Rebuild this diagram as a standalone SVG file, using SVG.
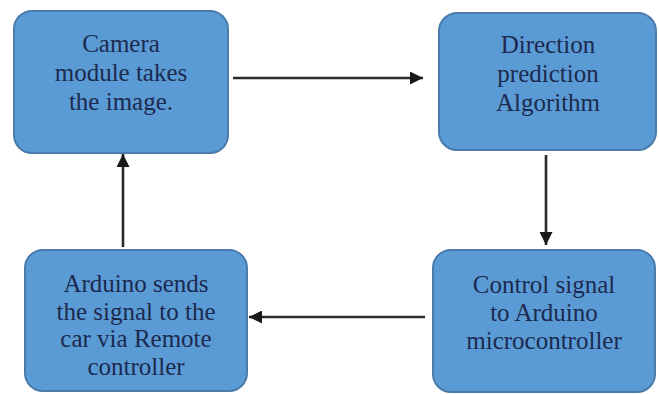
<svg xmlns="http://www.w3.org/2000/svg" width="659" height="394" viewBox="0 0 659 394">
<defs>
<marker id="ah" viewBox="0 0 10 10" refX="10" refY="5" markerWidth="5.5" markerHeight="5" markerUnits="strokeWidth" orient="auto">
<path d="M0,0 L10,5 L0,10 z" fill="#1a1a1a"/>
</marker>
<style>
.box{fill:#5B9BD5;stroke:#4A7BAA;stroke-width:2}
.c{stroke:#2b2b2b;stroke-width:2.6;fill:none;marker-end:url(#ah)}
</style>
</defs>
<rect width="659" height="394" fill="#ffffff"/>
<g id="camera">
<rect class="box" x="14" y="11" width="214" height="142" rx="18"/>
<g font-family="Liberation Serif" font-size="25" fill="#1B2A4E" text-anchor="middle">
<text x="121" y="52">Camera</text>
<text x="121" y="81">module takes</text>
<text x="121" y="110">the image.</text>
</g>
</g>
<g id="direction">
<rect class="box" x="439" y="13" width="217" height="137" rx="18"/>
<g font-family="Liberation Serif" font-size="25" fill="#1B2A4E" text-anchor="middle">
<text x="548" y="53">Direction</text>
<text x="548" y="82">prediction</text>
<text x="548" y="111">Algorithm</text>
</g>
</g>
<g id="control">
<rect class="box" x="433" y="250" width="222" height="142" rx="18"/>
<g font-family="Liberation Serif" font-size="25" fill="#1B2A4E" text-anchor="middle">
<text x="544" y="293">Control signal</text>
<text x="544" y="321">to Arduino</text>
<text x="544" y="349">microcontroller</text>
</g>
</g>
<g id="arduino">
<rect class="box" x="25" y="250" width="222" height="141" rx="18"/>
<g font-family="Liberation Serif" font-size="25" fill="#1B2A4E" text-anchor="middle">
<text x="136" y="292">Arduino sends</text>
<text x="136" y="320">the signal to the</text>
<text x="136" y="347">car via Remote</text>
<text x="136" y="375">controller</text>
</g>
</g>
<g id="connectors">
<line class="c" x1="233" y1="78" x2="423" y2="78"/>
<line class="c" x1="546" y1="155" x2="546" y2="245"/>
<line class="c" x1="425" y1="317" x2="249" y2="317"/>
<line class="c" x1="123" y1="247" x2="123" y2="154"/>
</g>
</svg>
